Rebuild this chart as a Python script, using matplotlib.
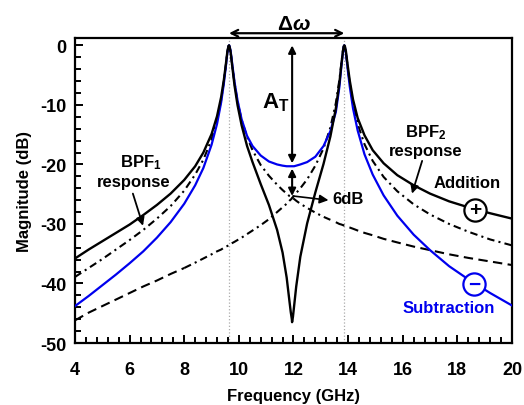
import numpy as np
import matplotlib
matplotlib.use("Agg")
import matplotlib.pyplot as plt

# Frequency samples (GHz)
freq = [4.0, 4.5, 5.0, 5.5, 6.0, 6.5, 7.0, 7.5, 8.0, 8.4, 8.7, 9.0, 9.2, 9.35, 9.45, 9.52, 9.58, 9.62, 9.64, 9.66,
        9.7, 9.76, 9.84, 9.95, 10.1, 10.3, 10.5, 10.8, 11.1, 11.4, 11.6, 11.75, 11.85, 11.9, 11.94, 11.948, 11.98, 12.02, 12.1, 12.25,
        12.5, 12.8, 13.1, 13.35, 13.55, 13.68, 13.76, 13.81, 13.84, 13.86, 13.88, 13.92, 13.98, 14.06, 14.18, 14.35, 14.6, 14.9, 15.3, 15.8,
        16.4, 17.0, 17.7, 18.4, 19.2, 20.0]

# Magnitudes (dB)
addition = [-35.8, -34.3, -32.9, -31.5, -30.1, -28.5, -26.8, -24.9, -22.6, -20.3, -18.0, -14.9, -11.9, -8.7, -5.8, -3.3, -1.0, -0.1, 0.0, -0.2,
            -1.2, -3.6, -6.7, -10.0, -13.4, -16.9, -19.6, -23.3, -26.8, -31.0, -34.8, -39.0, -42.9, -44.8, -46.0, -46.5, -45.6, -43.9, -40.5, -35.5,
            -29.9, -24.7, -19.9, -15.3, -10.6, -6.3, -2.9, -1.0, -0.2, 0.0, -0.1, -1.0, -3.2, -5.9, -9.1, -12.2, -15.1, -17.6, -19.8, -21.8,
            -23.5, -24.9, -26.2, -27.2, -28.2, -29.1]
subtraction = [-43.8, -42.1, -40.3, -38.5, -36.6, -34.6, -32.3, -29.7, -26.6, -23.5, -20.6, -16.7, -13.2, -9.6, -6.4, -3.7, -1.2, -0.2, 0.0, -0.1,
               -1.0, -3.2, -6.1, -9.2, -12.4, -15.2, -16.9, -18.5, -19.5, -20.0, -20.2, -20.3, -20.3, -20.3, -20.3, -20.3, -20.3, -20.3, -20.2, -20.0,
               -19.6, -18.7, -16.9, -14.4, -11.2, -7.0, -3.2, -1.2, -0.2, 0.0, -0.2, -1.3, -3.8, -6.9, -10.6, -14.3, -18.3, -21.7, -25.2, -28.6,
               -31.8, -34.4, -37.1, -39.3, -41.6, -43.7]
bpf1 = [-38.9, -37.4, -35.9, -34.3, -32.7, -31.0, -29.1, -27.0, -24.4, -21.7, -19.2, -15.8, -12.5, -9.2, -6.1, -3.5, -1.1, -0.1, 0.0, -0.1,
        -1.1, -3.4, -6.3, -9.4, -12.5, -15.4, -17.6, -20.1, -21.9, -23.4, -24.3, -24.9, -25.3, -25.4, -25.6, -25.6, -25.7, -25.8, -26.1, -26.6,
        -27.3, -28.1, -28.8, -29.3, -29.7, -30.0, -30.1, -30.2, -30.2, -30.3, -30.3, -30.4, -30.5, -30.6, -30.8, -31.1, -31.5, -31.9, -32.5, -33.1,
        -33.8, -34.4, -35.1, -35.7, -36.3, -36.9]
bpf2 = [-46.2, -44.9, -43.8, -42.7, -41.6, -40.5, -39.5, -38.4, -37.4, -36.5, -35.8, -35.1, -34.6, -34.3, -34.0, -33.8, -33.7, -33.6, -33.5, -33.5,
        -33.4, -33.2, -33.0, -32.7, -32.3, -31.7, -31.1, -30.2, -29.2, -28.0, -27.2, -26.6, -26.1, -25.9, -25.7, -25.6, -25.5, -25.3, -24.8, -24.0,
        -22.5, -20.2, -17.3, -13.8, -9.7, -5.8, -2.7, -0.8, -0.1, 0.0, -0.1, -1.2, -3.5, -6.4, -9.8, -13.2, -16.6, -19.4, -22.1, -24.5,
        -26.7, -28.4, -30.0, -31.3, -32.6, -33.6]

f_res1 = 9.64
f_res2 = 13.86
x_ticks = [4, 6, 8, 10, 12, 14, 16, 18, 20]
y_ticks = [-50, -40, -30, -20, -10, 0]
y_labels = ['-50', '-40', '-30', '-20', '-10', '0']

plt.rcParams['font.family'] = ['Liberation Sans', 'DejaVu Sans']
plt.rcParams['font.weight'] = 'bold'
plt.rcParams['mathtext.fontset'] = 'custom'
plt.rcParams['mathtext.rm'] = 'Liberation Sans:bold'
plt.rcParams['mathtext.it'] = 'Liberation Sans:bold:italic'
plt.rcParams['mathtext.bf'] = 'Liberation Sans:bold'

F = np.array(freq)
B1 = np.array(bpf1)
B2 = np.array(bpf2)

fig = plt.figure(figsize=(5.24, 4.06), dpi=100)
ax = fig.add_axes([0.1431, 0.1527, 0.834, 0.752])
for sp in ax.spines.values():
    sp.set_linewidth(1.6)

ax.axvline(f_res1, color='#aaaaaa', lw=0.9, ls=':', zorder=1)
ax.axvline(f_res2, color='#aaaaaa', lw=0.9, ls=':', zorder=1)

dashdot = (0, (3.6, 2.0, 1.0, 2.0))
dashed = (0, (4.5, 2.6))
# BPF1: dash-dot near its passband, dashed far tail
m1 = F <= 13.5
ax.plot(F[m1], B1[m1], color='black', lw=1.5, ls=dashdot, zorder=2)
m1b = F >= 13.5
ax.plot(F[m1b], B1[m1b], color='black', lw=1.5, ls=dashed, zorder=2)
# BPF2: dashed far tail, dash-dot near its passband
m2 = F <= 8.0
ax.plot(F[m2], B2[m2], color='black', lw=1.5, ls=dashed, zorder=2)
m2b = F >= 8.0
ax.plot(F[m2b], B2[m2b], color='black', lw=1.5, ls=dashdot, zorder=2)
ax.plot(freq, subtraction, color='#0000ee', lw=1.6, zorder=3)
ax.plot(freq, addition, color='black', lw=1.7, zorder=4)

ax.set_xlim(4, 20)
ax.set_ylim(-50, 1.3)
ax.set_xticks(x_ticks)
ax.set_xticks(np.arange(4, 20.01, 0.4), minor=True)
ax.set_yticks(y_ticks)
ax.set_yticks(np.arange(-50, 1, 2), minor=True)
ax.set_yticklabels(y_labels)
ax.tick_params(axis='both', which='both', direction='in', width=1.4, top=False, right=False)
ax.tick_params(axis='both', which='major', length=6, labelsize=13)
ax.tick_params(axis='both', which='minor', length=4)
ax.tick_params(axis='x', which='major', pad=13)
ax.tick_params(axis='y', which='major', pad=6)
for lab in ax.get_xticklabels() + ax.get_yticklabels():
    lab.set_fontweight('bold')
ax.set_xlabel('Frequency (GHz)', fontsize=12, fontweight='bold', labelpad=7)
ax.set_ylabel('Magnitude (dB)', fontsize=12, fontweight='bold', labelpad=6)

ak = dict(arrowstyle='<|-|>', color='black', lw=1.5, mutation_scale=11, shrinkA=0, shrinkB=0)
ax.annotate('', xy=(f_res1, 2.05), xytext=(f_res2, 2.05),
            arrowprops=dict(arrowstyle='<->', color='black', lw=1.6, mutation_scale=12, shrinkA=0, shrinkB=0),
            annotation_clip=False)
ax.text(12.0, 3.7, r'$\mathrm{\Delta}\omega$', fontsize=15, ha='center', va='center', clip_on=False)
ax.annotate('', xy=(11.95, 0), xytext=(11.95, -19.8), arrowprops=ak)
ax.text(11.86, -9.5, r'$\mathrm{A_T}$', fontsize=16, ha='right', va='center')
ax.annotate('', xy=(11.95, -20.7), xytext=(11.95, -25.3), arrowprops=ak)
ax.annotate('', xy=(13.28, -26.0), xytext=(11.98, -25.3),
            arrowprops=dict(arrowstyle='-|>', color='black', lw=1.2, mutation_scale=13, shrinkA=0, shrinkB=0))
ax.text(13.42, -25.8, '6dB', fontsize=12, ha='left', va='center')

ax.text(6.42, -19.5, r'BPF$_\mathrm{1}$', fontsize=12, ha='center', va='center')
ax.text(6.15, -22.9, 'response', fontsize=12, ha='center', va='center')
ax.annotate('', xy=(6.49, -30.3), xytext=(6.12, -24.9),
            arrowprops=dict(arrowstyle='-|>', color='black', lw=1.3, mutation_scale=12, shrinkA=0, shrinkB=0))
ax.text(16.85, -14.5, r'BPF$_\mathrm{2}$', fontsize=12, ha='center', va='center')
ax.text(16.83, -17.6, 'response', fontsize=12, ha='center', va='center')
ax.annotate('', xy=(16.34, -24.9), xytext=(16.71, -19.4),
            arrowprops=dict(arrowstyle='-|>', color='black', lw=1.3, mutation_scale=12, shrinkA=0, shrinkB=0))

ax.text(18.35, -23.1, 'Addition', fontsize=12, ha='center', va='center')
ax.plot([18.65], [-27.6], 'o', ms=16, mfc='white', mec='black', mew=1.6, zorder=6)
ax.text(18.65, -27.5, '+', fontsize=15, ha='center', va='center', zorder=7)
ax.text(17.7, -44.0, 'Subtraction', fontsize=12, ha='center', va='center', color='#0000ee')
ax.plot([18.6], [-40.1], 'o', ms=16, mfc='white', mec='#0000ee', mew=1.6, zorder=6)
ax.text(18.6, -40.1, '\u2212', fontsize=15, ha='center', va='center', color='#0000ee', zorder=7)

fig.savefig("out.png", dpi=100)
